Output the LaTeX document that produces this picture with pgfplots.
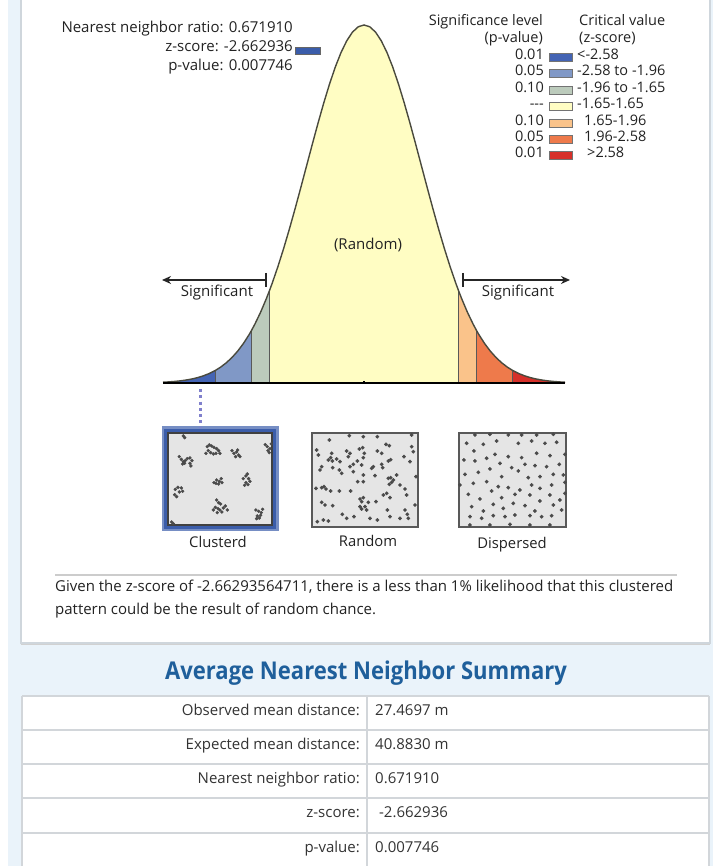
\documentclass[border=0pt]{standalone}
\usepackage{pgfplots}
\pgfplotsset{compat=1.18}
\usepackage{pgfplotstable}
\usepackage{fontspec}
\setmainfont{Open Sans}
\newfontfamily\condf[FakeStretch=0.9]{Open Sans}
\usetikzlibrary{arrows.meta}

\definecolor{bgblue}{HTML}{EAF3FA}
\definecolor{panelline}{HTML}{CFD6DC}
\definecolor{tablec}{HTML}{D2D6DA}
\definecolor{titlec}{HTML}{1F5F9B}
\definecolor{txt}{HTML}{222222}
\definecolor{cA}{HTML}{4464B4}
\definecolor{cB}{HTML}{8098C6}
\definecolor{cC}{HTML}{BCCBBC}
\definecolor{cD}{HTML}{FFFDC3}
\definecolor{cE}{HTML}{FAC38A}
\definecolor{cF}{HTML}{EE7A4B}
\definecolor{cG}{HTML}{D6302A}
\definecolor{curvec}{HTML}{4A4A3E}
\definecolor{dotc}{HTML}{4A4A4A}
\definecolor{boxfill}{HTML}{E5E5E5}
\definecolor{selblue}{HTML}{3B5DAA}

% standard normal density, read along the drawn bell
\pgfplotstableread{
z pdf
-3.5 0.00087
-3.4 0.00123
-3.3 0.00172
-3.2 0.00238
-3.1 0.00327
-3.0 0.00443
-2.9 0.00595
-2.8 0.00792
-2.7 0.01042
-2.6 0.01358
-2.58 0.01431
-2.5 0.01753
-2.4 0.02239
-2.3 0.02833
-2.2 0.03547
-2.1 0.04398
-2.0 0.05399
-1.96 0.05844
-1.9 0.06562
-1.8 0.07895
-1.7 0.09405
-1.65 0.10226
-1.6 0.11092
-1.5 0.12952
-1.4 0.14973
-1.3 0.17137
-1.2 0.19419
-1.1 0.21785
-1.0 0.24197
-0.9 0.26609
-0.8 0.28969
-0.7 0.31225
-0.6 0.33322
-0.5 0.35207
-0.4 0.36827
-0.3 0.38139
-0.2 0.39104
-0.1 0.39695
0.0 0.39894
0.1 0.39695
0.2 0.39104
0.3 0.38139
0.4 0.36827
0.5 0.35207
0.6 0.33322
0.7 0.31225
0.8 0.28969
0.9 0.26609
1.0 0.24197
1.1 0.21785
1.2 0.19419
1.3 0.17137
1.4 0.14973
1.5 0.12952
1.6 0.11092
1.65 0.10226
1.7 0.09405
1.8 0.07895
1.9 0.06562
1.96 0.05844
2.0 0.05399
2.1 0.04398
2.2 0.03547
2.3 0.02833
2.4 0.02239
2.5 0.01753
2.58 0.01431
2.6 0.01358
2.7 0.01042
2.8 0.00792
2.9 0.00595
3.0 0.00443
3.1 0.00327
3.2 0.00238
3.3 0.00172
3.4 0.00123
3.5 0.00087
}\curve

\pgfplotsset{
  dotbox/.style={scale only axis, axis lines=none, y dir=reverse, clip=false,
    anchor=south west},
  dots/.style={only marks, mark=*, mark size=1.7pt, color=dotc},
}

\begin{document}
\begin{tikzpicture}
\useasboundingbox (0,0) rectangle (713pt,866pt);
% page background, drawn in pixel coordinates (y down)
\begin{scope}[x=1pt, y=-1pt, yshift=866pt]
\fill[white] (0,0) rectangle (713,866);
\fill[bgblue] (8,0) rectangle (713,866);
\fill[white] (21,0) rectangle (710,643);
\draw[panelline, line width=1.2] (21,0) -- (21,643) -- (710,643) -- (710,0);
\draw[black!18, line width=1.5] (21,644.5) -- (710,644.5);
\fill[white] (22,696) rectangle (709,870);
\foreach \yy in {696,730,764,798,833}
  \draw[tablec, line width=1.6] (22,\yy) -- (709,\yy);
\draw[tablec, line width=1.4] (22,696) -- (22,870) (709,696) -- (709,870) (367,696) -- (367,870);
\draw[black!20, line width=1.5] (55,575) -- (677,575);
% frames of the point pattern boxes
\fill[boxfill] (168,433) rectangle (272,525);
\draw[selblue!70, line width=6] (164.5,429.5) rectangle (275.5,528.5);
\draw[selblue, line width=3.5] (165.5,430.5) rectangle (274.5,527.5);
\draw[black!75, line width=1.2] (168,433) rectangle (272,525);
\fill[boxfill] (312,433) rectangle (418,527);
\draw[black!65, line width=2] (312,433) rectangle (418,527);
\fill[boxfill] (459,433) rectangle (566,527);
\draw[black!65, line width=2] (459,433) rectangle (566,527);
\end{scope}

% bell curve
\begin{axis}[at={(163pt,483pt)}, anchor=south west, scale only axis,
  width=402pt, height=358pt, xmin=-3.5, xmax=3.5, ymin=0, ymax=0.39894,
  axis lines=none, clip=false, no markers]
\addplot[fill=cA, draw=none, restrict x to domain=-3.51:-2.579] table {\curve} \closedcycle;
\addplot[fill=cB, draw=none, restrict x to domain=-2.581:-1.959] table {\curve} \closedcycle;
\addplot[fill=cC, draw=none, restrict x to domain=-1.961:-1.649] table {\curve} \closedcycle;
\addplot[fill=cD, draw=none, restrict x to domain=-1.651:1.651] table {\curve} \closedcycle;
\addplot[fill=cE, draw=none, restrict x to domain=1.649:1.961] table {\curve} \closedcycle;
\addplot[fill=cF, draw=none, restrict x to domain=1.959:2.581] table {\curve} \closedcycle;
\addplot[fill=cG, draw=none, restrict x to domain=2.579:3.51] table {\curve} \closedcycle;
\addplot[black!65, line width=0.8] coordinates {(-2.58,0) (-2.58,0.01431)};
\addplot[black!65, line width=0.8] coordinates {(-1.96,0) (-1.96,0.05844)};
\addplot[black!65, line width=0.8] coordinates {(-1.65,0) (-1.65,0.10226)};
\addplot[black!65, line width=0.8] coordinates {(1.65,0) (1.65,0.10226)};
\addplot[black!65, line width=0.8] coordinates {(1.96,0) (1.96,0.05844)};
\addplot[black!65, line width=0.8] coordinates {(2.58,0) (2.58,0.01431)};
\addplot[curvec, line width=1.4pt] table {\curve};
\addplot[black, line width=2pt] coordinates {(-3.5,0) (3.5,0)};
\addplot[black, line width=2pt] coordinates {(0,0) (0,0.0025)};
\end{axis}

% point patterns
\begin{axis}[dotbox, at={(168.3pt,341pt)}, width=103.3pt, height=91.7pt,
  xmin=85, xmax=395, ymin=100, ymax=375]
\addplot[dots, mark size=1.5pt] coordinates {
(130,108)(134,113)
(202,140)(208,135)(215,138)(222,142)(230,146)(236,152)(205,152)(212,158)(220,162)(228,160)(240,160)(198,160)
(118,170)(124,178)(130,185)(136,182)(142,176)(150,174)(156,182)(150,190)(153,198)(128,192)(134,190)
(276,152)(282,160)(290,156)(296,165)(300,170)(287,170)(293,150)
(376,134)(382,140)(390,146)(384,152)(394,132)(388,158)
(222,248)(230,240)(238,244)(244,236)(236,252)(246,248)(228,250)
(310,236)(318,228)(326,236)(330,244)(318,248)(324,254)(314,256)(322,222)
(106,268)(114,262)(124,264)(128,274)(118,276)(104,284)(110,290)
(230,300)(236,308)(242,312)(226,322)(234,326)(240,330)(250,324)(256,318)(246,336)(220,330)(262,330)(232,338)
(348,330)(356,334)(364,338)(352,348)(358,354)(368,328)(362,346)(350,356)
(95,366)(100,371)
};
\end{axis}

\begin{axis}[dotbox, at={(312pt,339pt)}, width=106pt, height=94pt,
  xmin=36, xmax=354, ymin=24, ymax=306]
\addplot[dots] coordinates {
(88,45)(148,32)(190,35)(232,35)(335,30)
(50,75)(55,90)(95,85)(92,98)(140,78)(150,85)(145,95)(178,72)(188,68)(193,85)(190,98)(232,78)(245,85)(258,58)(268,62)(312,95)(335,65)(340,80)
(85,105)(97,108)(110,102)(120,110)(65,125)(60,135)(98,128)(118,135)(125,145)(150,125)(160,118)(172,108)(185,120)(215,130)(220,125)(245,118)(248,128)(265,108)(272,104)(330,110)
(160,140)(190,150)(225,152)(265,160)(272,158)(280,165)(290,150)(275,172)(268,178)(348,155)
(48,190)(65,188)(72,185)(78,192)(92,198)(118,198)(152,198)(173,170)(190,170)(300,180)(315,192)(250,210)(260,205)(270,218)(320,210)
(65,232)(75,240)(98,242)(180,222)(185,230)(190,218)(205,232)(228,230)(180,245)(185,252)(195,245)(200,255)(262,255)(315,255)(322,268)(345,240)
(127,268)(140,280)(162,275)(210,280)(232,285)(270,275)(300,280)(325,280)(52,290)(70,285)(85,288)
};
\end{axis}

\begin{axis}[dotbox, at={(459.3pt,339pt)}, width=107.3pt, height=93.7pt,
  xmin=28, xmax=350, ymin=25, ymax=306]
\addplot[dots] coordinates {
(75,30)(120,28)(175,30)(215,30)(260,30)(310,28)
(50,55)(100,58)(140,48)(205,55)(245,48)(285,55)(320,52)
(72,78)(135,88)(175,95)(215,98)(260,85)(300,92)(345,88)
(42,105)(75,108)(110,100)(150,115)(185,128)(225,118)(255,122)(290,125)(328,118)
(45,148)(85,142)(120,132)(155,155)(205,138)(235,158)(270,155)(310,148)(340,150)
(70,175)(110,170)(145,185)(175,188)(210,195)(245,180)(270,190)(305,180)(345,172)
(30,180)(55,208)(90,222)(125,198)(155,218)(195,208)(240,210)(300,210)(330,225)(345,205)
(65,245)(100,258)(130,238)(160,250)(190,235)(225,242)(255,258)(270,228)(310,240)(335,255)
(60,275)(95,280)(130,272)(165,275)(195,270)(240,272)(275,275)(305,272)
(60,300)(120,300)(180,298)(240,300)(300,300)
};
\end{axis}

\begin{scope}[x=1pt, y=-1pt, yshift=866pt, every node/.style={inner sep=0, text=txt}]
% significance arrows and link to the clustered box
\draw[black!85, line width=1.6, -{Stealth[length=9,width=8]}] (266,280) -- (162,280);
\draw[black!85, line width=1.6] (266,273) -- (266,287);
\draw[black!85, line width=1.6, -{Stealth[length=9,width=8]}] (463,280) -- (570,280);
\draw[black!85, line width=1.6] (463,273) -- (463,287);
\draw[black!40!blue!50, line width=3, dash pattern=on 3 off 3.3] (200,389) -- (200,427);
% texts of the diagram
\node[anchor=mid east, font=\fontsize{15}{18}\selectfont] at (293,30) {Nearest neighbor ratio: 0.671910};
\node[anchor=mid east, font=\fontsize{15}{18}\selectfont] at (293,49) {z-score: -2.662936};
\node[anchor=mid east, font=\fontsize{15}{18}\selectfont] at (293,68) {p-value: 0.007746};
\draw[black!60, fill=selblue, line width=0.6] (295.5,47.5) rectangle (320,54.5);
\node[font=\fontsize{15}{18}\selectfont] at (368,245) {(Random)};
\node[font=\fontsize{15}{18}\selectfont] at (217,293) {Significant};
\node[font=\fontsize{15}{18}\selectfont] at (518,293) {Significant};
\node[font=\fontsize{14.8}{18}\selectfont] at (218,542) {Clusterd};
\node[font=\fontsize{14.8}{18}\selectfont] at (368,541) {Random};
\node[font=\fontsize{14.8}{18}\selectfont] at (512,545) {Dispersed};
% legend
\node[anchor=mid east, font=\fontsize{14.5}{17}\selectfont] at (543,23) {Significance level};
\node[anchor=mid east, font=\fontsize{14.5}{17}\selectfont] at (543,40) {(p-value)};
\node[anchor=mid west, font=\fontsize{14.5}{17}\selectfont] at (579,23) {Critical value};
\node[anchor=mid west, font=\fontsize{14.5}{17}\selectfont] at (579,40) {(z-score)};
\foreach \yy/\pv/\cc/\xo/\zs in {57/0.01/cA/577/<-2.58, 73/0.05/cB/577/-2.58 to -1.96,
    90/0.10/cC/577/-1.96 to -1.65, 106/-{}-{}-/cD/577/-1.65-1.65, 123/0.10/cE/584/1.65-1.96,
    139/0.05/cF/584/1.96-2.58, 155/0.01/cG/587/>2.58} {
  \node[anchor=mid east, font=\fontsize{14.5}{17}\selectfont] at (544,\yy) {\pv};
  \draw[black!55, fill=\cc, line width=0.7] (549,\yy-4) rectangle (572,\yy+4);
  \node[anchor=mid west, font=\fontsize{14.5}{17}\selectfont] at (\xo,\yy) {\zs};
}
% bottom text
\node[anchor=mid west, font=\fontsize{15}{18}\selectfont] at (55,589)
  {Given the z-score of -2.66293564711, there is a less than 1\% likelihood that this clustered};
\node[anchor=mid west, font=\fontsize{15}{18}\selectfont] at (55,612)
  {pattern could be the result of random chance.};
% summary table
\node[font=\condf\bfseries\fontsize{24.5}{28}\selectfont, text=titlec] at (366,673) {Average Nearest Neighbor Summary};
\foreach \yy/\lab/\val in {713/Observed mean distance:/27.4697 m, 747/Expected mean distance:/40.8830 m,
    781/Nearest neighbor ratio:/0.671910, 815/z-score:/\ -2.662936, 850/p-value:/0.007746} {
  \node[anchor=mid east, font=\fontsize{15}{18}\selectfont, text=black!80] at (360,\yy) {\lab};
  \node[anchor=mid west, font=\fontsize{15}{18}\selectfont, text=black!80] at (375,\yy) {\val};
}
\end{scope}
\end{tikzpicture}
\end{document}
